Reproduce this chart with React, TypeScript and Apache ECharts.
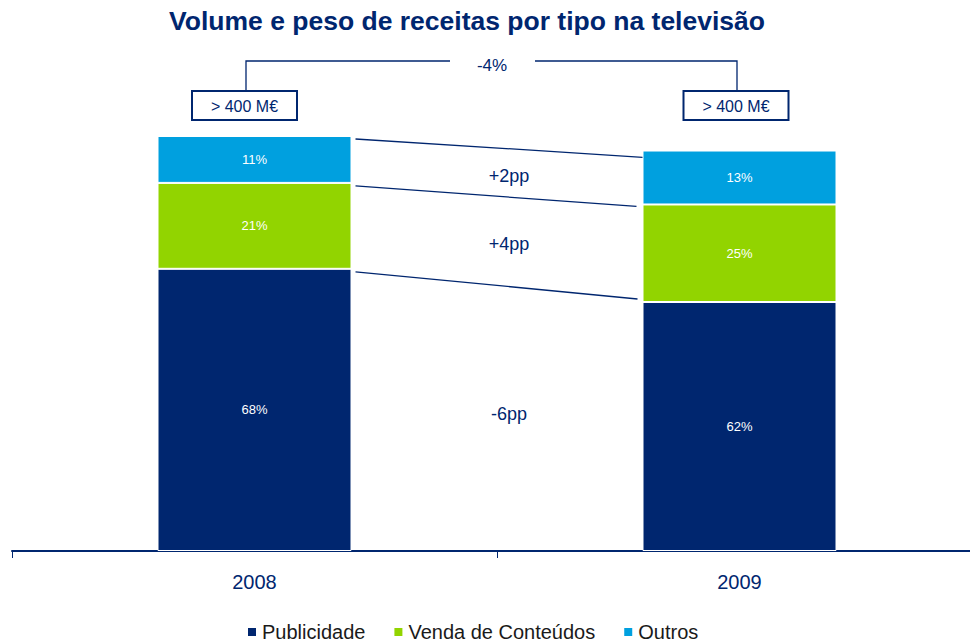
import React, { useEffect, useRef } from 'react';
import * as echarts from 'echarts';

const years = ['2008', '2009'];
const seriesNames = ['Publicidade', 'Venda de Conteúdos', 'Outros'];
const publicidade = [68, 60];
const vendaConteudos = [20.7, 23.5];
const outros = [11.3, 13];
const pctPublicidade = ['68%', '62%'];
const pctVenda = ['21%', '25%'];
const pctOutros = ['11%', '13%'];
const changeOutros = '+2pp';
const changeVenda = '+4pp';
const changePublicidade = '-6pp';
const totalChange = '-4%';
const volumeLabels = ['> 400 M€', '> 400 M€'];

const NAVY = '#00266F';
const GREEN = '#92D400';
const BLUE = '#00A0DF';
const FONT = 'Liberation Sans, Arial, sans-serif';
const BAR_W = 194;

export default function App() {
  const ref = useRef<HTMLDivElement>(null);

  useEffect(() => {
    document.body.style.margin = '0';
    if (!ref.current) return;
    const chart = echarts.init(ref.current, null, { renderer: 'svg' });

    const mkSeries = (name: string, data: number[], labels: string[], color: string) => ({
      name,
      type: 'bar',
      stack: 'total',
      barWidth: BAR_W,
      data,
      itemStyle: { color, borderColor: '#ffffff', borderWidth: 1 },
      label: {
        show: true,
        position: 'inside',
        color: '#ffffff',
        fontSize: 13,
        fontFamily: FONT,
        formatter: (p: any) => labels[p.dataIndex],
      },
    });

    chart.setOption({
      animation: false,
      backgroundColor: '#ffffff',
      title: {
        text: 'Volume e peso de receitas por tipo na televisão',
        left: 467,
        textAlign: 'center',
        top: 7,
        padding: 0,
        textStyle: { fontSize: 26.5, fontWeight: 'bold', color: NAVY, fontFamily: FONT },
      },
      legend: {
        data: seriesNames,
        left: 246,
        top: 622,
        padding: 0,
        icon: 'rect',
        itemWidth: 10,
        itemHeight: 10,
        itemGap: 27,
        textStyle: { fontSize: 20, color: '#1a1a1a', fontFamily: FONT },
      },
      grid: {
        left: 12,
        width: 970,
        top: 136,
        bottom: 91,
        containLabel: false,
        outerBoundsMode: 'none',
      },
      xAxis: {
        type: 'category',
        data: years,
        axisLine: { show: true, lineStyle: { color: NAVY, width: 2 } },
        axisTick: { show: true, length: 7, lineStyle: { color: NAVY, width: 1 } },
        axisLabel: { margin: 21, fontSize: 20, color: NAVY, fontFamily: FONT },
      },
      yAxis: { type: 'value', min: 0, max: 100, show: false, splitLine: { show: false } },
      series: [
        mkSeries(seriesNames[0], publicidade, pctPublicidade, NAVY),
        mkSeries(seriesNames[1], vendaConteudos, pctVenda, GREEN),
        mkSeries(seriesNames[2], outros, pctOutros, BLUE),
      ],
    });

    const px = (i: number, v: number) =>
      chart.convertToPixel({ xAxisIndex: 0, yAxisIndex: 0 }, [i, v]) as number[];

    const tops0 = [publicidade[0], publicidade[0] + vendaConteudos[0], publicidade[0] + vendaConteudos[0] + outros[0]];
    const tops1 = [publicidade[1], publicidade[1] + vendaConteudos[1], publicidade[1] + vendaConteudos[1] + outros[1]];
    const c0 = px(0, 0)[0];
    const c1 = px(1, 0)[0];
    const baseY = px(0, 0)[1];
    const right0 = c0 + BAR_W / 2;
    const left1 = c1 - BAR_W / 2;
    const endDy = [-3, 2, 7];
    const endDx = [-5, -6, 4];

    const graphics: any[] = [];
    const mids: number[] = [];
    for (let k = 0; k < 3; k++) {
      const y0 = px(0, tops0[k])[1] + 3;
      const y1 = px(1, tops1[k])[1] + endDy[k];
      const x0 = right0 + 4;
      const x1 = left1 + endDx[k];
      mids.push((y0 + y1) / 2);
      graphics.push({
        type: 'line',
        shape: { x1: x0, y1: y0, x2: x1, y2: y1 },
        style: { stroke: NAVY, lineWidth: 1.3 },
      });
    }
    const midX = (right0 + left1) / 2 + 12;
    const changeTexts = [
      { t: changePublicidade, y: (mids[0] + baseY) / 2 - 4 },
      { t: changeVenda, y: (mids[0] + mids[1]) / 2 + 3 },
      { t: changeOutros, y: (mids[1] + mids[2]) / 2 + 4 },
    ];
    changeTexts.forEach((c) =>
      graphics.push({
        type: 'text',
        x: midX,
        y: c.y,
        style: {
          text: c.t,
          fill: NAVY,
          fontSize: 18,
          fontFamily: FONT,
          textAlign: 'center',
          textVerticalAlign: 'middle',
        },
      })
    );

    // bracket and boxes
    const boxCx = [c0 - 10, c1 - 3.5];
    const lineX = [c0 - 8.5, c1 - 2.5];
    const bracketY = 61;
    const boxTop = 91;
    const boxH = 29;
    const boxW = 105;
    const gapMid = 492;
    graphics.push({
      type: 'polyline',
      shape: { points: [[lineX[0], boxTop], [lineX[0], bracketY], [gapMid - 42, bracketY]] },
      style: { stroke: NAVY, lineWidth: 1.3, fill: 'none' },
    });
    graphics.push({
      type: 'polyline',
      shape: { points: [[gapMid + 43, bracketY], [lineX[1], bracketY], [lineX[1], boxTop]] },
      style: { stroke: NAVY, lineWidth: 1.3, fill: 'none' },
    });
    graphics.push({
      type: 'text',
      x: gapMid,
      y: 65,
      style: {
        text: totalChange,
        fill: NAVY,
        fontSize: 17,
        fontFamily: FONT,
        textAlign: 'center',
        textVerticalAlign: 'middle',
      },
    });
    boxCx.forEach((cx, i) => {
      graphics.push({
        type: 'rect',
        shape: { x: cx - boxW / 2, y: boxTop, width: boxW, height: boxH },
        style: { stroke: NAVY, lineWidth: 2, fill: '#ffffff' },
      });
      graphics.push({
        type: 'text',
        x: cx,
        y: boxTop + boxH / 2 + 1,
        style: {
          text: volumeLabels[i],
          fill: NAVY,
          fontSize: 16,
          fontFamily: FONT,
          textAlign: 'center',
          textVerticalAlign: 'middle',
        },
      });
    });

    chart.setOption({ graphic: graphics });

    return () => chart.dispose();
  }, []);

  return <div ref={ref} style={{ width: 970, height: 642 }} />;
}
